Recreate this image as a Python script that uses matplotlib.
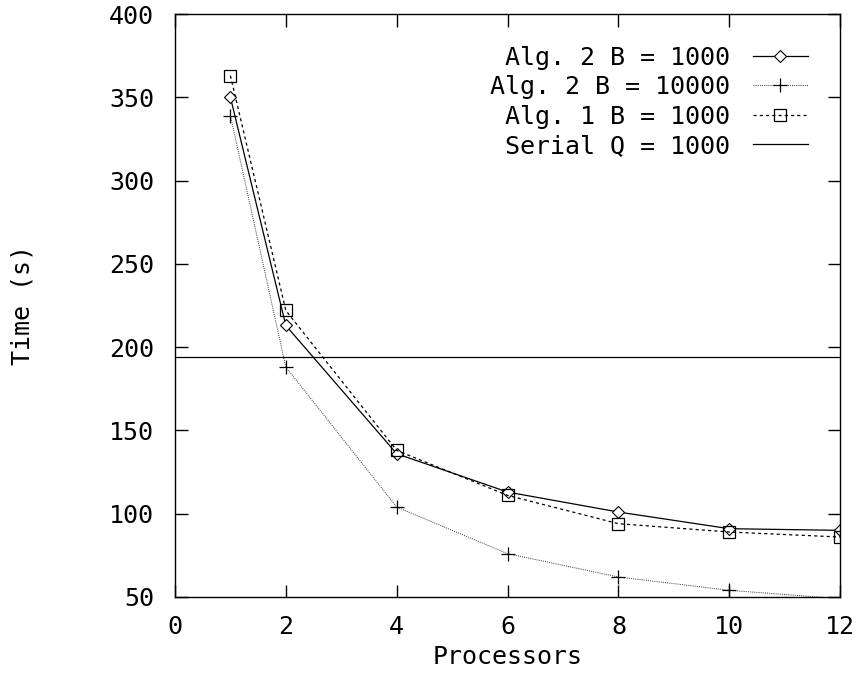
import matplotlib
matplotlib.use('Agg')
import matplotlib.pyplot as plt

# data
procs = [1, 2, 4, 6, 8, 10, 12]
alg2_b1000 = [350, 213, 136, 113, 101, 91, 90]
alg2_b10000 = [339, 188, 104, 76, 62, 54, 49]
alg1_b1000 = [363, 222, 138, 111, 94, 89, 86]
serial_q1000 = 194

x_ticks = [0, 2, 4, 6, 8, 10, 12]
y_ticks = [50, 100, 150, 200, 250, 300, 350, 400]

plt.rcParams['font.family'] = ['DejaVu Sans Mono']
plt.rcParams['font.size'] = 18

fig = plt.figure(figsize=(8.56, 6.77), dpi=100)
ax = fig.add_axes([0.2044, 0.1182, 0.7771, 0.8611])

ax.plot(procs, alg2_b1000, color='black', lw=0.9, marker='D', ms=6.5,
        mfc='white', mec='black', mew=0.8, label='Alg. 2 B = 1000')
ax.plot(procs, alg2_b10000, color='#333333', lw=0.7, ls=(0, (1, 1.2)), marker='+',
        ms=10, mew=0.9, mec='black', label='Alg. 2 B = 10000')
ax.plot(procs, alg1_b1000, color='black', lw=0.9, ls=(0, (2.5, 2.5)), marker='s',
        ms=9, mfc='none', mec='black', mew=0.9, label='Alg. 1 B = 1000')
ax.axhline(serial_q1000, color='black', lw=0.9, label='Serial Q = 1000')

ax.set_xlim(0, 12)
ax.set_ylim(50, 400)
ax.set_xticks(x_ticks)
ax.set_yticks(y_ticks)
ax.tick_params(direction='in', length=9, width=1.0, top=True, right=True,
               labelsize=18, colors='black')
ax.tick_params(axis='y', pad=15)
ax.tick_params(axis='x', pad=13)
for s in ax.spines.values():
    s.set_linewidth(1.0)

ax.set_xlabel('Processors', labelpad=4)
ax.set_ylabel('Time (s)', labelpad=54)

leg = ax.legend(loc='upper right', bbox_to_anchor=(0.966, 0.963), frameon=False,
                markerfirst=False, handlelength=2.2, handletextpad=0.9,
                labelspacing=0.22, borderaxespad=0)

fig.savefig('out.png', dpi=100)
